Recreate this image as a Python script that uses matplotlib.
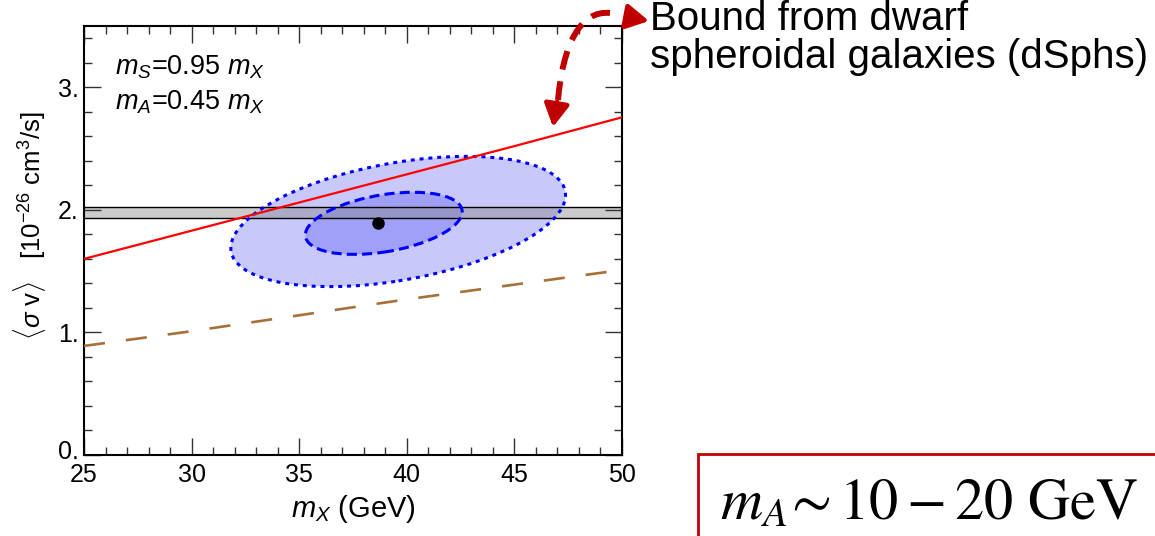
import matplotlib
matplotlib.use("Agg")
import matplotlib.pyplot as plt
from matplotlib.patches import Ellipse, Rectangle, PathPatch, FancyArrowPatch
from matplotlib.path import Path
from matplotlib.ticker import MultipleLocator
from matplotlib.transforms import ScaledTranslation

plt.rcParams['font.family'] = ['Liberation Sans', 'DejaVu Sans']
plt.rcParams['mathtext.fontset'] = 'custom'
plt.rcParams['mathtext.rm'] = 'Liberation Sans'
plt.rcParams['mathtext.it'] = 'Liberation Sans:italic'

# data
mx = [25, 30, 35, 40, 45, 50]
dsph_bound = [1.60, 1.83, 2.06, 2.29, 2.52, 2.755]
other_bound = [0.89, 1.01, 1.14, 1.27, 1.39, 1.51]
band_lo, band_hi = 1.93, 2.02
best_fit = (38.65, 1.89)
# contours: centre, width, height, tilt (data units)
outer_c, outer_w, outer_h, outer_ang = (39.6, 1.905), 15.56, 0.97, 1.6
inner_c, inner_w, inner_h, inner_ang = (38.93, 1.89), 7.29, 0.47, 1.5
xticks = [25, 30, 35, 40, 45, 50]
yticks = [0, 1, 2, 3]

W, H = 1155, 536
fig = plt.figure(figsize=(W / 100, H / 100), dpi=100)
ax = fig.add_axes([84 / W, 1 - 455 / H, (622 - 84) / W, (455 - 26) / H])


def px(x, y):
    return (x / W, 1 - y / H)


ax.add_patch(Ellipse(outer_c, outer_w, angle=outer_ang, height=outer_h,
                     facecolor='#c8c8fa', edgecolor='none', zorder=1))
ax.add_patch(Ellipse(inner_c, inner_w, angle=inner_ang, height=inner_h,
                     facecolor='#a0a0f8', edgecolor='none', zorder=1.1))
ax.axhspan(band_lo, band_hi, facecolor='#8c8c8c', alpha=0.45, zorder=1.5)
ax.axhline(band_lo, color='black', lw=1.0, zorder=1.6)
ax.axhline(band_hi, color='black', lw=1.0, zorder=1.6)
ax.add_patch(Ellipse(outer_c, outer_w, angle=outer_ang, height=outer_h,
                     facecolor='none', edgecolor='#0000ff', lw=2.2,
                     linestyle=(0, (1.3, 1.6)), zorder=2))
ax.add_patch(Ellipse(inner_c, inner_w, angle=inner_ang, height=inner_h,
                     facecolor='none', edgecolor='#0000ff', lw=2.2,
                     linestyle=(0, (3.3, 1.7)), zorder=2))

ax.plot(mx, dsph_bound, color='#ff0000', lw=1.6, zorder=3)
ax.plot(mx, other_bound, color='#a87038', lw=1.9, dashes=(8, 8), zorder=3)
ax.plot(*best_fit, 'o', color='black', ms=8, zorder=4)

ax.set_xlim(25, 50)
ax.set_ylim(0, 3.5)
ax.set_xticks(xticks)
ax.set_xticklabels([str(t) for t in xticks])
ax.set_yticks(yticks)
ax.set_yticklabels([f'{t}.' for t in yticks])
ax.xaxis.set_minor_locator(MultipleLocator(1))
ax.yaxis.set_minor_locator(MultipleLocator(0.2))
ax.tick_params(which='both', direction='in', top=True, right=True,
               labelsize=18, width=1.0, color='#333333')
ax.tick_params(which='major', length=12.5, pad=4)
ax.tick_params(axis='x', which='major', pad=6)
ax.tick_params(which='minor', length=6)
for s in ax.spines.values():
    s.set_linewidth(1.5)
# lift the "0." label a little, as in the original
zero_lab = ax.get_yticklabels()[0]
zero_lab.set_transform(zero_lab.get_transform()
                       + ScaledTranslation(0, 4 / 72, fig.dpi_scale_trans))

ax.text(0.058, 0.905, r'$m_S$=0.95 $m_X$', transform=ax.transAxes,
        fontsize=19.5, va='center')
ax.text(0.058, 0.822, r'$m_A$=0.45 $m_X$', transform=ax.transAxes,
        fontsize=19.5, va='center')

ax.set_xlabel(r'$m_X$ (GeV)', fontsize=21, labelpad=4)
fig.text(*px(30, 226), r'$\langle\sigma\ \mathrm{v}\rangle$   [10$^{-26}$ cm$^3$/s]',
         rotation=90, fontsize=18.5, ha='center', va='center')

# annotation on the right
fig.text(*px(650, 0), 'Bound from dwarf\nspheroidal galaxies (dSphs)',
         fontsize=29, va='top', ha='left', linespacing=1.0)

arrow_col = '#c00000'
curve = Path([px(610, 13), px(580, 10), px(563, 45), px(558, 100)],
             [Path.MOVETO, Path.CURVE4, Path.CURVE4, Path.CURVE4])
fig.add_artist(PathPatch(curve, transform=fig.transFigure, facecolor='none',
                         edgecolor=arrow_col, lw=4.3, linestyle=(0, (3.2, 2.0)),
                         capstyle='butt'))
for tail, tip in [((557, 102), (553, 127)), ((628, 17), (649, 21))]:
    fig.add_artist(FancyArrowPatch(
        px(*tail), px(*tip), transform=fig.transFigure,
        arrowstyle='-|>,head_length=0.9,head_width=0.5', mutation_scale=15,
        color=arrow_col, lw=3.5, shrinkA=0, shrinkB=0))

# boxed estimate, bottom right
fig.add_artist(Rectangle(px(698, 620), 600 / W, (620 - 454) / H,
                         transform=fig.transFigure, facecolor='none',
                         edgecolor=arrow_col, lw=2.0))
fig.text(*px(720, 519), r'$m_A\!\sim 10-20\ \mathrm{GeV}$', fontsize=42,
         math_fontfamily='stix', va='baseline', ha='left')

fig.savefig('out.png', dpi=100)
